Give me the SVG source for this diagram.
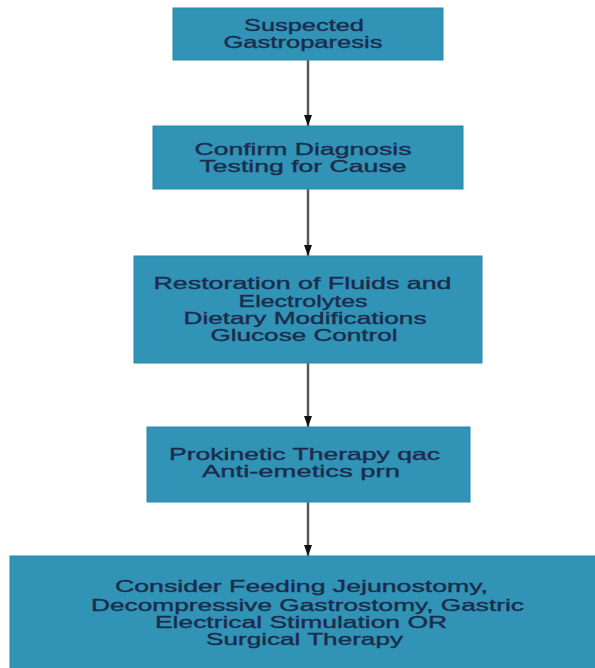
<svg xmlns="http://www.w3.org/2000/svg" width="595" height="668" viewBox="0 0 595 668">
  <style>
    .box { fill: #3193b5; stroke: #2b88a8; stroke-width: 1; }
    .lbl { font-family: "Liberation Sans", Arial, sans-serif; font-size: 16.5px; fill: #1b2c4c; stroke: #1b2c4c; stroke-width: 0.35; text-anchor: middle; }
    .edge { stroke: #5a5a5a; stroke-width: 2.5; fill: none; marker-end: url(#arrow); }
  </style>
  <defs>
    <marker id="arrow" viewBox="0 0 11 8" refX="11" refY="4" markerWidth="11" markerHeight="8" orient="auto" markerUnits="userSpaceOnUse">
      <path d="M0,0 L11,4 L0,8 z" fill="#111"/>
    </marker>
  </defs>
  <rect width="595" height="668" fill="#ffffff"/>

  <g id="connectors">
    <line class="edge" x1="308" y1="60" x2="308" y2="126"/>
    <line class="edge" x1="308" y1="189" x2="308" y2="256"/>
    <line class="edge" x1="308" y1="363" x2="308" y2="427"/>
    <line class="edge" x1="308" y1="502" x2="308" y2="556"/>
  </g>

  <g id="n1">
    <rect class="box" x="173" y="8" width="270" height="52"/>
    <text class="lbl" x="304" y="31" textLength="120" lengthAdjust="spacingAndGlyphs">Suspected</text>
    <text class="lbl" x="303" y="48" textLength="159" lengthAdjust="spacingAndGlyphs">Gastroparesis</text>
  </g>

  <g id="n2">
    <rect class="box" x="153" y="126" width="310" height="63"/>
    <text class="lbl" x="303" y="155" textLength="217" lengthAdjust="spacingAndGlyphs">Confirm Diagnosis</text>
    <text class="lbl" x="303" y="172" textLength="207" lengthAdjust="spacingAndGlyphs">Testing for Cause</text>
  </g>

  <g id="n3">
    <rect class="box" x="134" y="256" width="348" height="107"/>
    <text class="lbl" x="302.5" y="289" textLength="298" lengthAdjust="spacingAndGlyphs">Restoration of Fluids and</text>
    <text class="lbl" x="303" y="307" textLength="129" lengthAdjust="spacingAndGlyphs">Electrolytes</text>
    <text class="lbl" x="305" y="324" textLength="243" lengthAdjust="spacingAndGlyphs">Dietary Modifications</text>
    <text class="lbl" x="304" y="341" textLength="187" lengthAdjust="spacingAndGlyphs">Glucose Control</text>
  </g>

  <g id="n4">
    <rect class="box" x="147" y="427" width="323" height="75"/>
    <text class="lbl" x="304.5" y="459.5" textLength="271" lengthAdjust="spacingAndGlyphs">Prokinetic Therapy qac</text>
    <text class="lbl" x="301" y="476.5" textLength="198" lengthAdjust="spacingAndGlyphs">Anti-emetics prn</text>
  </g>

  <g id="n5">
    <rect class="box" x="10" y="556" width="590" height="115"/>
    <text class="lbl" x="301.5" y="592" textLength="373" lengthAdjust="spacingAndGlyphs">Consider Feeding Jejunostomy,</text>
    <text class="lbl" x="307.5" y="611" textLength="433" lengthAdjust="spacingAndGlyphs">Decompressive Gastrostomy, Gastric</text>
    <text class="lbl" x="301" y="628" textLength="292" lengthAdjust="spacingAndGlyphs">Electrical Stimulation OR</text>
    <text class="lbl" x="304.5" y="645" textLength="197" lengthAdjust="spacingAndGlyphs">Surgical Therapy</text>
  </g>
</svg>
